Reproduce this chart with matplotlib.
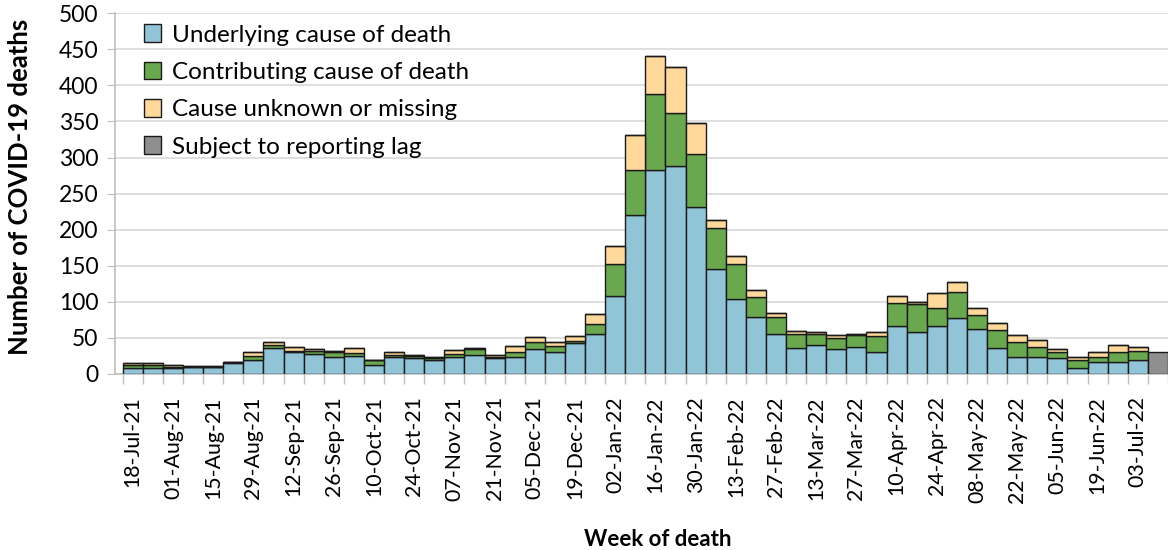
import matplotlib
matplotlib.use("Agg")
import matplotlib.pyplot as plt
import numpy as np
from matplotlib.patches import Patch

plt.rcParams['font.family'] = ['Lato', 'DejaVu Sans']

underlying = [8, 9, 9, 10, 10, 15, 20, 36, 30, 28, 24, 25, 13, 24, 22, 20, 24, 26, 22, 24,
              34, 30, 43, 56, 108, 220, 283, 288, 232, 146, 104, 79, 56, 36, 40, 34, 38, 31,
              67, 58, 67, 77, 63, 36, 24, 24, 22, 9, 17, 17, 20, 0]
contributing = [5, 4, 1, 0, 0, 1, 5, 4, 2, 4, 6, 4, 7, 3, 3, 2, 4, 9, 2, 7,
                11, 9, 3, 13, 44, 63, 105, 74, 73, 56, 48, 28, 23, 20, 15, 16, 16, 22,
                32, 39, 25, 37, 19, 25, 21, 14, 8, 11, 7, 14, 12, 0]
unknown = [2, 2, 3, 1, 1, 1, 5, 5, 5, 3, 2, 7, 0, 4, 2, 2, 5, 1, 2, 8,
           6, 5, 7, 14, 25, 48, 53, 64, 43, 12, 12, 10, 6, 3, 3, 4, 2, 5,
           9, 3, 20, 13, 10, 9, 9, 9, 5, 3, 6, 9, 6, 0]
reporting_lag = [0] * 51 + [31]

tick_labels = ["18-Jul-21", "01-Aug-21", "15-Aug-21", "29-Aug-21", "12-Sep-21", "26-Sep-21",
               "10-Oct-21", "24-Oct-21", "07-Nov-21", "21-Nov-21", "05-Dec-21", "19-Dec-21",
               "02-Jan-22", "16-Jan-22", "30-Jan-22", "13-Feb-22", "27-Feb-22", "13-Mar-22",
               "27-Mar-22", "10-Apr-22", "24-Apr-22", "08-May-22", "22-May-22", "05-Jun-22",
               "19-Jun-22", "03-Jul-22"]

series_names = ["Underlying cause of death", "Contributing cause of death",
                "Cause unknown or missing", "Subject to reporting lag"]
colors = ["#92C4D8", "#6AA84F", "#FFD89B", "#8F8F8F"]

fig = plt.figure(figsize=(11.68, 5.5), dpi=100)
ax = fig.add_axes([0.0985, 0.32, 0.9015, 0.656])

x = np.arange(len(underlying))
bottom = np.zeros(len(x))
for vals, col in zip([underlying, contributing, unknown, reporting_lag], colors):
    v = np.array(vals, dtype=float)
    ax.bar(x, v, width=1.0, bottom=bottom, color=col, edgecolor="#1a1a1a",
           linewidth=1.0, zorder=3)
    bottom += v

ax.set_ylim(0, 500)
ax.set_yticks(np.arange(0, 501, 50))
ax.set_xlim(-0.88, 51.5)
ax.grid(axis="y", color="#D9D9D9", linewidth=1.2, zorder=0)

ax.set_xticks(np.arange(0, 51, 2))
ax.set_xticklabels(tick_labels, rotation=90, fontsize=15.3)
ax.set_xticks(np.arange(-0.5, 52, 1), minor=True)
ax.tick_params(axis="x", which="major", length=0, pad=16)
ax.tick_params(axis="x", which="minor", length=7, color="#BFBFBF", width=1)
ax.tick_params(axis="y", labelsize=16.5, length=6, color="#BFBFBF", pad=6)

for s in ["top", "right"]:
    ax.spines[s].set_visible(False)
for s in ["left", "bottom"]:
    ax.spines[s].set_color("#BFBFBF")
    ax.spines[s].set_linewidth(1.2)

ax.set_ylabel("Number of COVID-19 deaths", fontsize=18.5, fontweight="bold")
ax.yaxis.set_label_coords(-0.079, 0.52)
ax.set_xlabel("Week of death", fontsize=16, fontweight="bold")
ax.xaxis.set_label_coords(0.5157, -0.43)

handles = [Patch(facecolor=c, edgecolor="#1a1a1a", linewidth=1.0) for c in colors]
leg = ax.legend(handles, series_names, loc="upper left", bbox_to_anchor=(0.014, 1.01),
                frameon=False, fontsize=17.5, handlelength=0.7, handleheight=0.75,
                handletextpad=0.45, labelspacing=0.66, borderaxespad=0.2)

fig.savefig("out.png", dpi=100)
